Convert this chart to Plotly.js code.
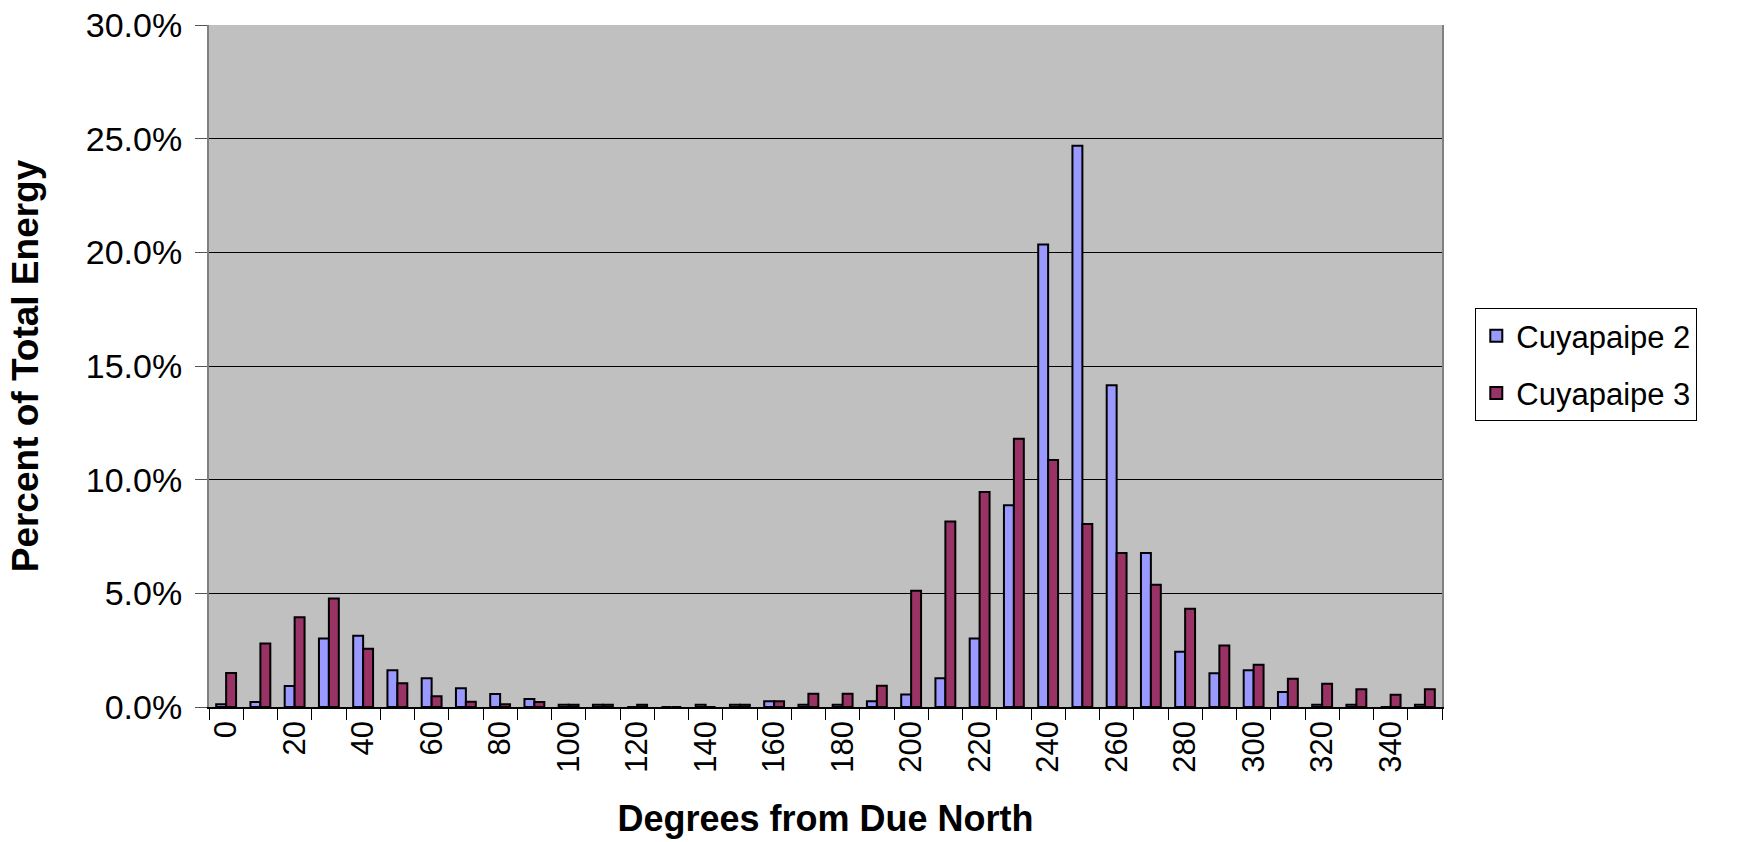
<!DOCTYPE html>
<html>
<head>
<meta charset="utf-8">
<script src="https://cdn.plot.ly/plotly-3.0.1.min.js"></script>
<style>
html,body{margin:0;padding:0;background:#fff;}
#chart{width:1758px;height:842px;}
</style>
</head>
<body>
<div id="chart"></div>
<script>
// Wind direction bins (degrees from due north)
const directions = ["0","10","20","30","40","50","60","70","80","90","100","110","120","130","140","150","160","170",
  "180","190","200","210","220","230","240","250","260","270","280","290","300","310","320","330","340","350"];

// Tick labels: every other bin is labelled
const tickLabels = directions.map((d, i) => (i % 2 === 0 ? d : ""));

// Percent of total energy
const cuyapaipe2 = [0.12, 0.22, 0.92, 3.01, 3.13, 1.62, 1.27, 0.82, 0.57, 0.35,
  0.1, 0.1, 0, 0, 0.1, 0.1, 0.25, 0.1,
  0.1, 0.25, 0.55, 1.26, 3.01, 8.87, 20.34, 24.69, 14.15, 6.77,
  2.43, 1.49, 1.62, 0.66, 0.1, 0.1, 0, 0.1];
const cuyapaipe3 = [1.5, 2.79, 3.95, 4.77, 2.56, 1.04, 0.47, 0.23, 0.12, 0.22,
  0.1, 0.1, 0.1, 0, 0, 0.1, 0.25, 0.58,
  0.58, 0.94, 5.11, 8.16, 9.46, 11.8, 10.86, 8.05, 6.77, 5.38,
  4.32, 2.7, 1.86, 1.24, 1.02, 0.78, 0.54, 0.78];

const seriesNames = ["Cuyapaipe 2", "Cuyapaipe 3"];

const fontFamily = "Liberation Sans, Arial, sans-serif";

const traces = [
  {
    type: "bar", name: seriesNames[0], x: directions, y: cuyapaipe2,
    legendgroup: "a",
    marker: {color: "#9999FF", line: {color: "#000000", width: 2}},
    hoverinfo: "x+y"
  },
  {
    type: "bar", name: seriesNames[1], x: directions, y: cuyapaipe3,
    legendgroup: "b",
    marker: {color: "#993366", line: {color: "#000000", width: 2}},
    hoverinfo: "x+y"
  }
];

const layout = {
  width: 1758, height: 842,
  margin: {l: 209, r: 316, t: 25, b: 135, autoexpand: false},
  paper_bgcolor: "#ffffff",
  plot_bgcolor: "#C0C0C0",
  barmode: "group",
  bargap: 0.42,
  bargroupgap: 0,
  font: {family: fontFamily, color: "#000000", size: 30},
  showlegend: true,
  legend: {
    x: 1.027, y: 0.585, xanchor: "left", yanchor: "top",
    bgcolor: "#ffffff", bordercolor: "#000000", borderwidth: 1,
    font: {family: fontFamily, size: 31, color: "#000000"},
    tracegroupgap: 14, itemwidth: 30
  },
  xaxis: {
    type: "category",
    tickmode: "array",
    tickvals: directions,
    ticktext: tickLabels,
    tickson: "boundaries",
    ticks: "outside", ticklen: 11, tickwidth: 1, tickcolor: "#000000",
    tickangle: -90,
    tickfont: {family: fontFamily, size: 31, color: "#000000"},
    showgrid: false,
    showline: true, linecolor: "#000000", linewidth: 1.5,
    zeroline: false,
    automargin: false,
    title: {text: "Degrees from Due North", standoff: 34,
      font: {family: fontFamily, size: 36, color: "#000000", weight: "bold"}}
  },
  yaxis: {
    range: [0, 30], dtick: 5, tick0: 0,
    ticksuffix: "%", tickformat: ".1f",
    ticks: "outside", ticklen: 12, tickwidth: 1, tickcolor: "#555555",
    ticklabelstandoff: 6,
    tickfont: {family: fontFamily, size: 34, color: "#000000"},
    showgrid: true, gridcolor: "#000000", gridwidth: 1,
    showline: true, linecolor: "#808080", linewidth: 2, mirror: true,
    zeroline: false,
    automargin: false,
    title: {text: "Percent of Total Energy", standoff: 36,
      font: {family: fontFamily, size: 37, color: "#000000", weight: "bold"}}
  }
};

Plotly.newPlot("chart", traces, layout, {displayModeBar: false, staticPlot: true});
</script>
</body>
</html>
